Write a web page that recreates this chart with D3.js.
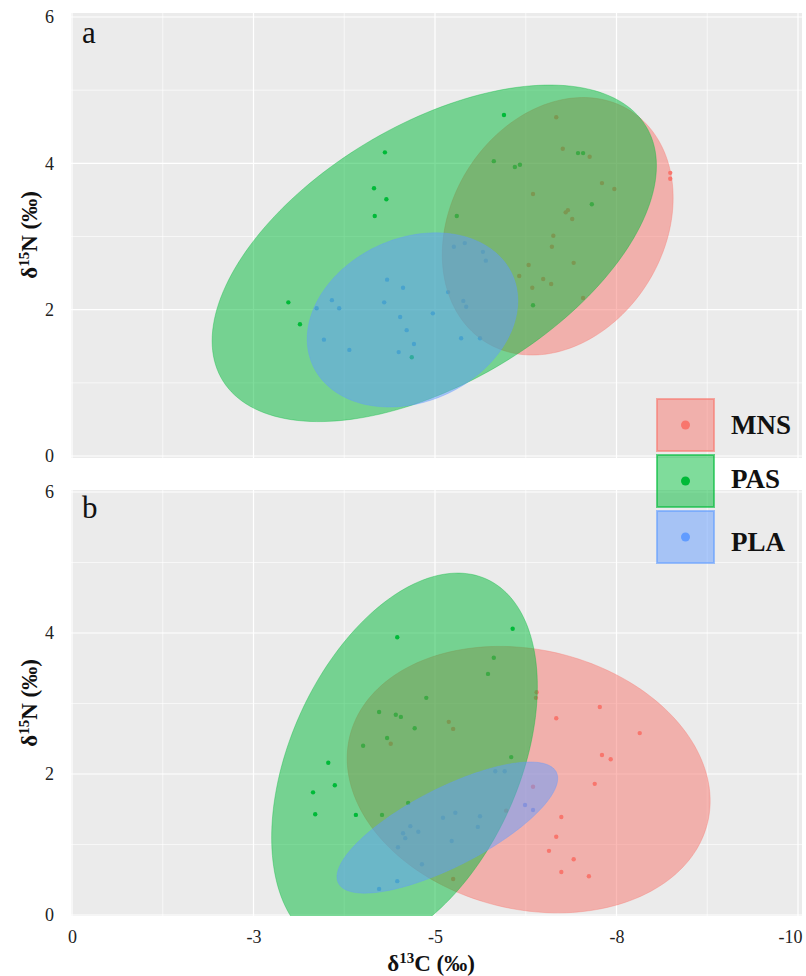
<!DOCTYPE html>
<html>
<head>
<meta charset="utf-8">
<script src="https://cdn.jsdelivr.net/npm/d3@7"></script>
<style>
  html, body { margin: 0; padding: 0; background: #ffffff; }
  svg { display: block; }
</style>
</head>
<body>
<svg id="chart" width="806" height="976"></svg>
<script>
// ---------------- DATA ----------------
const groups = ["MNS", "PAS", "PLA"];
const groupColors = ["#F8766D", "#00BA38", "#619CFF"];

const xTickValues = [0, -2.5, -5, -7.5, -10];
const xTickLabels = ["0", "-3", "-5", "-8", "-10"];
const yTickValues = [0, 2, 4, 6];
const yTickLabels = ["0", "2", "4", "6"];

// Panel a : [δ13C, δ15N]
const aMNS = [[-6.67,4.63],[-6.76,4.20],[-7.13,4.09],[-7.30,3.73],[-7.47,3.65],[-6.35,3.58],
  [-6.80,3.33],[-6.83,3.36],[-6.89,3.24],[-6.63,3.01],[-6.61,2.86],[-6.91,2.64],[-6.29,2.61],
  [-6.16,2.46],[-6.49,2.42],[-6.60,2.35],[-6.34,2.30],[-7.04,2.16],[-8.24,3.87],[-8.24,3.79]];
const aPAS = [[-4.31,4.15],[-4.16,3.66],[-4.33,3.51],[-4.17,3.28],[-5.30,3.28],[-2.98,2.10],
  [-3.14,1.80],[-5.95,4.66],[-5.81,4.03],[-6.10,3.95],[-6.17,3.98],[-6.97,4.14],[-7.04,4.14],
  [-7.16,3.44],[-6.35,2.06],[-4.68,1.35]];
const aPLA = [[-3.37,2.02],[-3.58,2.13],[-3.68,2.02],[-3.47,1.59],[-3.82,1.45],[-4.34,2.41],
  [-4.56,2.30],[-4.30,2.10],[-4.52,1.90],[-4.61,1.72],[-4.71,1.53],[-4.50,1.42],[-4.97,1.95],
  [-5.36,1.61],[-5.62,1.61],[-5.26,2.86],[-5.41,2.91],[-5.39,2.12],[-5.43,2.04],[-5.18,2.24],
  [-5.66,2.79],[-5.70,2.67]];

// Panel b : [δ13C, δ15N]
const bMNS = [[-5.19,2.74],[-5.25,2.64],[-4.39,2.43],[-6.40,3.16],[-6.39,3.08],[-7.27,2.95],
  [-6.67,2.79],[-7.82,2.58],[-7.30,2.27],[-7.42,2.21],[-7.20,1.86],[-6.35,1.82],[-5.98,1.48],
  [-6.74,1.39],[-6.67,1.11],[-6.57,0.91],[-6.91,0.79],[-6.74,0.61],[-7.12,0.55],[-5.25,0.51]];
const bPAS = [[-4.48,3.94],[-4.88,3.08],[-4.23,2.88],[-4.46,2.84],[-4.53,2.81],[-4.72,2.65],
  [-4.34,2.51],[-4.01,2.40],[-3.53,2.16],[-3.62,1.84],[-3.32,1.74],[-3.35,1.43],[-3.91,1.42],
  [-4.27,1.42],[-6.07,4.06],[-5.81,3.65],[-5.73,3.42],[-6.05,2.24],[-4.63,1.59]];
const bPLA = [[-5.11,1.38],[-5.28,1.45],[-4.66,1.26],[-4.56,1.16],[-4.59,1.09],[-4.77,1.18],
  [-4.49,0.96],[-5.23,1.05],[-4.82,0.72],[-4.48,0.48],[-4.23,0.37],[-5.83,2.04],[-5.96,2.04],
  [-6.24,1.56],[-6.35,1.49],[-5.62,1.40],[-5.59,1.25]];

// Standard ellipses per group (order MNS, PAS, PLA): centre, spread, correlation
const aEllipseCx  = [-6.69, -4.99, -4.69];
const aEllipseCy  = [ 3.14,  2.77,  1.86];
const aEllipseSx  = [ 1.59,  3.06,  1.45];
const aEllipseSy  = [ 1.76,  2.30,  1.19];
const aEllipseRho = [-0.22, -0.52, -0.22];

const bEllipseCx  = [-6.29, -4.58, -5.17];
const bEllipseCy  = [ 1.92,  2.17,  1.24];
const bEllipseSx  = [ 2.50,  1.83,  1.52];
const bEllipseSy  = [ 1.89,  2.68,  0.93];
const bEllipseRho = [ 0.16, -0.40, -0.75];

// ---------------- LAYOUT ----------------
const svg = d3.select("#chart");
const FONT = "'Liberation Serif', 'Times New Roman', 'DejaVu Serif', serif";
const plotLeft = 71, plotRight = 802;

const x = d3.scaleLinear().domain([0, -10]).range([72, 798]);

const panels = [
  { id: "a", label: "a", top: 13, bottom: 458, yRange: [456, 17], labelY: 43,
    pts: [aMNS, aPAS, aPLA],
    ell: [aEllipseCx, aEllipseCy, aEllipseSx, aEllipseSy, aEllipseRho], titleY: 235 },
  { id: "b", label: "b", top: 490, bottom: 916, yRange: [915, 492], labelY: 518,
    pts: [bMNS, bPAS, bPLA],
    ell: [bEllipseCx, bEllipseCy, bEllipseSx, bEllipseSy, bEllipseRho], titleY: 703 }
];

function midpoints(arr) { return d3.pairs(arr).map(([a, b]) => (a + b) / 2); }

panels.forEach(p => {
  const y = d3.scaleLinear().domain([0, 6]).range(p.yRange);
  const g = svg.append("g");

  svg.append("clipPath").attr("id", "clip-" + p.id)
    .append("rect").attr("x", plotLeft).attr("y", p.top)
    .attr("width", plotRight - plotLeft).attr("height", p.bottom - p.top);

  g.append("rect").attr("x", plotLeft).attr("y", p.top)
    .attr("width", plotRight - plotLeft).attr("height", p.bottom - p.top)
    .attr("fill", "#EBEBEB");

  const grid = g.append("g").attr("clip-path", `url(#clip-${p.id})`);
  midpoints(xTickValues).forEach(v => grid.append("line")
    .attr("x1", x(v)).attr("x2", x(v)).attr("y1", p.top).attr("y2", p.bottom)
    .attr("stroke", "#fff").attr("stroke-width", 0.6));
  midpoints(yTickValues).forEach(v => grid.append("line")
    .attr("x1", plotLeft).attr("x2", plotRight).attr("y1", y(v)).attr("y2", y(v))
    .attr("stroke", "#fff").attr("stroke-width", 0.6));
  xTickValues.forEach(v => grid.append("line")
    .attr("x1", x(v)).attr("x2", x(v)).attr("y1", p.top).attr("y2", p.bottom)
    .attr("stroke", "#fff").attr("stroke-width", 1.2));
  yTickValues.forEach(v => grid.append("line")
    .attr("x1", plotLeft).attr("x2", plotRight).attr("y1", y(v)).attr("y2", y(v))
    .attr("stroke", "#fff").attr("stroke-width", 1.2));

  const content = g.append("g").attr("clip-path", `url(#clip-${p.id})`);

  // points (beneath ellipses)
  p.pts.forEach((pts, gi) => {
    content.append("g").selectAll("circle").data(pts).join("circle")
      .attr("cx", d => x(d[0])).attr("cy", d => y(d[1])).attr("r", 2.2)
      .attr("fill", groupColors[gi]);
  });

  // ellipses
  const [cxs, cys, sxs, sys, rhos] = p.ell;
  const line = d3.line().x(d => x(d[0])).y(d => y(d[1])).curve(d3.curveLinearClosed);
  groups.forEach((grp, gi) => {
    const n = 180, r = rhos[gi], k = Math.sqrt(1 - r * r);
    const pts = d3.range(n).map(i => {
      const t = 2 * Math.PI * i / n;
      return [cxs[gi] + sxs[gi] * Math.cos(t),
              cys[gi] + sys[gi] * (r * Math.cos(t) + k * Math.sin(t))];
    });
    content.append("path").attr("d", line(pts))
      .attr("fill", groupColors[gi]).attr("fill-opacity", 0.5)
      .attr("stroke", groupColors[gi]).attr("stroke-opacity", 0.35).attr("stroke-width", 1);
  });

  // y axis labels
  const yAxis = d3.axisLeft(y).tickValues(yTickValues)
    .tickFormat((d, i) => yTickLabels[i]).tickSize(0).tickPadding(0);
  const ya = svg.append("g").attr("transform", "translate(54,0)").call(yAxis);
  ya.select(".domain").remove();
  ya.selectAll("text").attr("font-family", FONT).attr("font-size", 18).attr("fill", "#222");

  // y title
  const yt = svg.append("text")
    .attr("transform", `translate(37,${p.titleY}) rotate(-90)`)
    .attr("text-anchor", "middle").attr("font-family", FONT)
    .attr("font-weight", "bold").attr("font-size", 23).attr("fill", "#111");
  yt.append("tspan").text("δ");
  yt.append("tspan").attr("font-size", 15).attr("dy", -8).text("15");
  yt.append("tspan").attr("dy", 8).text("N (‰)");

  // panel letter
  svg.append("text").attr("x", 82).attr("y", p.labelY)
    .attr("font-family", FONT).attr("font-size", 31).attr("fill", "#111").text(p.label);
});

// x axis (bottom panel only)
const xAxis = d3.axisBottom(x).tickValues(xTickValues)
  .tickFormat((d, i) => xTickLabels[i]).tickSize(0).tickPadding(14);
const xa = svg.append("g").attr("transform", "translate(0,916)").call(xAxis);
xa.select(".domain").remove();
xa.selectAll("text").attr("font-family", FONT).attr("font-size", 18).attr("fill", "#222");
xa.selectAll(".tick").filter((d, i) => i === 4).select("text")
  .attr("text-anchor", "end").attr("dx", 4);

const xt = svg.append("text").attr("x", 431).attr("y", 971)
  .attr("text-anchor", "middle").attr("font-family", FONT)
  .attr("font-weight", "bold").attr("font-size", 23).attr("fill", "#111");
xt.append("tspan").text("δ");
xt.append("tspan").attr("font-size", 15).attr("dy", -8).text("13");
xt.append("tspan").attr("dy", 8).text("C (‰)");

// legend
const legend = svg.append("g");
const legendTop = [399, 455, 511];
const legendTextY = [434, 488, 551];
groups.forEach((grp, gi) => {
  legend.append("rect").attr("x", 657).attr("y", legendTop[gi]).attr("width", 57).attr("height", 52)
    .attr("fill", groupColors[gi]).attr("fill-opacity", 0.5)
    .attr("stroke", groupColors[gi]).attr("stroke-opacity", 0.6).attr("stroke-width", 2);
  legend.append("circle").attr("cx", 685.5).attr("cy", legendTop[gi] + 26).attr("r", 4.5)
    .attr("fill", groupColors[gi]);
  legend.append("text").attr("x", 731).attr("y", legendTextY[gi])
    .attr("font-family", FONT).attr("font-weight", "bold").attr("font-size", 27)
    .attr("fill", "#111").text(grp);
});
</script>
</body>
</html>
